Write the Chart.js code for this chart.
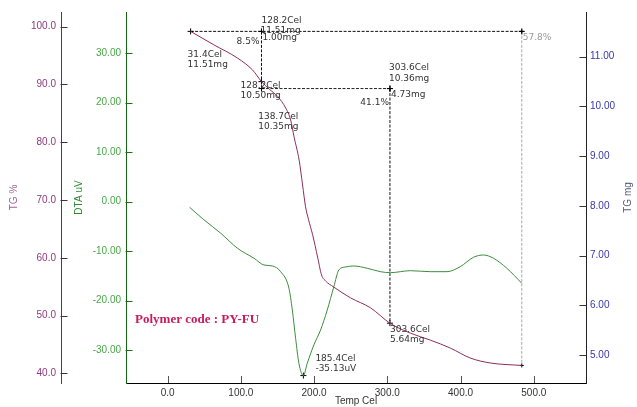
<!DOCTYPE html>
<html>
<head>
<meta charset="utf-8">
<title>TG / DTA - PY-FU</title>
<script src="https://cdn.jsdelivr.net/npm/chart.js@4.4.1/dist/chart.umd.min.js"></script>
<style>
    html, body { margin: 0; padding: 0; background: #fff; }
    #chart { display: block; }
</style>
</head>
<body>
<canvas id="chart" width="637" height="407"></canvas>
<script>
// Tick values
const tempTicks = [0, 100, 200, 300, 400, 500];
const pctTicks = [40, 50, 60, 70, 80, 90, 100];
const dtaTicks = [-30, -20, -10, 0, 10, 20, 30];
const mgTicks = [5, 6, 7, 8, 9, 10, 11];

// TG curve (Cel, mg)
const tgTemp = [31.4, 63.1, 95.8, 116.2, 128.2, 138.7, 150.3, 161.2, 168.0, 172.8, 179.6, 184.3, 188.4,
    192.5, 198.0, 204.8, 210.2, 215.7, 226.6, 249.7, 277.0, 303.6, 331.5, 358.7, 386.0, 413.2, 440.5, 483.6];
const tgMass = [11.51, 11.24, 10.97, 10.73, 10.50, 10.35, 10.20, 9.97, 9.73, 9.38, 8.92, 8.42, 7.98,
    7.72, 7.42, 6.97, 6.61, 6.49, 6.37, 6.15, 5.95, 5.64, 5.44, 5.30, 5.14, 4.94, 4.84, 4.79];

// DTA curve (Cel, uV)
const dtaTemp = [30.0, 49.9, 72.6, 95.4, 118.0, 131.6, 143.1, 154.4, 165.7, 170.3, 174.8, 179.3, 185.4,
    190.7, 199.7, 208.9, 218.0, 227.0, 233.8, 242.9, 254.2, 272.5, 290.6, 304.2, 331.5, 358.7, 381.5,
    399.6, 417.7, 431.3, 445.0, 463.2, 483.6];
const dtaSignal = [-1.13, -3.70, -6.38, -9.41, -11.43, -12.79, -12.99, -14.14, -17.49, -21.88, -27.60, -32.65, -35.13,
    -32.65, -28.95, -25.92, -21.88, -17.17, -13.80, -13.19, -12.99, -13.45, -14.14, -14.34, -13.94, -14.14, -14.14,
    -13.13, -11.23, -10.77, -11.43, -13.45, -16.48];

// Step analysis marks
const stepTemp = [31.4, 128.2, 303.6, 483.6];
const stepMass = [11.51, 10.50, 10.36, 5.64, 4.79];
const peakTemp = [185.4];
const peakDta = [-35.13];

const tgColor = '#8a2d5c';
const dtaColor = '#3c8c3c';

function pts(xs, ys) {
    return xs.map((x, i) => ({ x: x, y: ys[i] }));
}

function dashed(data, color, radius) {
    return {
        data: data,
        yAxisID: 'yMg',
        borderColor: color,
        backgroundColor: color,
        borderWidth: 1,
        borderDash: [3, 1.5],
        pointStyle: 'cross',
        pointRadius: radius,
        pointBorderWidth: 1,
        pointBorderColor: '#000',
        tension: 0
    };
}

// Annotation texts: anchor value plus pixel offset
const notes = [
    { text: '128.2Cel', t: stepTemp[1], v: stepMass[0], axis: 'yMg', dx: 0, dy: -11 },
    { text: '11.51mg', t: stepTemp[1], v: stepMass[0], axis: 'yMg', dx: -1, dy: -1 },
    { text: '1.00mg', t: stepTemp[1], v: stepMass[0], axis: 'yMg', dx: 1, dy: 6 },
    { text: '8.5%', t: stepTemp[1], v: stepMass[0], axis: 'yMg', dx: -2, dy: 10, align: 'right' },
    { text: '31.4Cel', t: stepTemp[0], v: stepMass[0], axis: 'yMg', dx: -3, dy: 23 },
    { text: '11.51mg', t: stepTemp[0], v: stepMass[0], axis: 'yMg', dx: -3, dy: 33 },
    { text: '128.2Cel', t: stepTemp[1], v: stepMass[1], axis: 'yMg', dx: -21, dy: 4 },
    { text: '10.50mg', t: stepTemp[1], v: stepMass[1], axis: 'yMg', dx: -21, dy: 14 },
    { text: '138.7Cel', t: 138.7, v: 10.35, axis: 'yMg', dx: -11, dy: 28 },
    { text: '10.35mg', t: 138.7, v: 10.35, axis: 'yMg', dx: -11, dy: 38 },
    { text: '303.6Cel', t: stepTemp[2], v: stepMass[2], axis: 'yMg', dx: -1, dy: -21 },
    { text: '10.36mg', t: stepTemp[2], v: stepMass[2], axis: 'yMg', dx: -1, dy: -10 },
    { text: '4.73mg', t: stepTemp[2], v: stepMass[2], axis: 'yMg', dx: 1, dy: 6 },
    { text: '41.1%', t: stepTemp[2], v: stepMass[2], axis: 'yMg', dx: -1, dy: 14, align: 'right' },
    { text: '57.8%', t: stepTemp[3], v: stepMass[0], axis: 'yMg', dx: 1, dy: 6, color: '#999' },
    { text: '303.6Cel', t: stepTemp[2], v: stepMass[3], axis: 'yMg', dx: 0, dy: 6 },
    { text: '5.64mg', t: stepTemp[2], v: stepMass[3], axis: 'yMg', dx: 0, dy: 16 },
    { text: '185.4Cel', t: peakTemp[0], v: peakDta[0], axis: 'yDta', dx: 12, dy: -17 },
    { text: '-35.13uV', t: peakTemp[0], v: peakDta[0], axis: 'yDta', dx: 12, dy: -7 }
];

const tickFont = { family: 'Liberation Sans', size: 10 };

function fixedTicks(values) {
    return function(axis) {
        axis.ticks = values.map(v => ({ value: v }));
    };
}

// Draws inward tick marks, axis titles, step labels and the caption
const overlay = {
    id: 'overlay',
    afterDraw(chart) {
        const { ctx, chartArea, scales } = chart;
        ctx.save();
        ctx.lineWidth = 1;

        [['yPct', '#4a2a44'], ['yDta', '#1d6b1d'], ['yMg', '#333']].forEach(([id, color]) => {
            const s = scales[id];
            const edge = s.position === 'left' ? Math.round(s.right) - 0.5 : Math.round(s.left) + 0.5;
            const dir = s.position === 'left' ? 1 : -1;
            ctx.strokeStyle = color;
            s.ticks.forEach(t => {
                const y = Math.round(s.getPixelForValue(t.value)) + 0.5;
                ctx.beginPath();
                ctx.moveTo(edge, y);
                ctx.lineTo(edge + dir * 7, y);
                ctx.stroke();
            });
        });

        const xs = scales.x;
        ctx.strokeStyle = '#555';
        xs.ticks.forEach(t => {
            const x = Math.round(xs.getPixelForValue(t.value)) + 0.5;
            ctx.beginPath();
            ctx.moveTo(x, chartArea.bottom);
            ctx.lineTo(x, chartArea.bottom - 7);
            ctx.stroke();
        });

        // axis titles
        const midY = (chartArea.top + chartArea.bottom) / 2;
        ctx.font = '10px "Liberation Sans"';
        ctx.textAlign = 'center';
        ctx.textBaseline = 'middle';
        [['TG %', scales.yPct.left + 14, '#a0649a'], ['DTA uV', scales.yDta.left + 18, '#2f8a2f'],
         ['TG mg', scales.yMg.right - 9, '#555a80']].forEach(([txt, x, color]) => {
            ctx.save();
            ctx.translate(x, midY);
            ctx.rotate(-Math.PI / 2);
            ctx.fillStyle = color;
            ctx.fillText(txt, 0, 0);
            ctx.restore();
        });
        ctx.fillStyle = '#333';
        ctx.fillText('Temp Cel', (chartArea.left + chartArea.right) / 2, chart.height - 6);

        // step labels
        ctx.font = '9px "DejaVu Sans"';
        notes.forEach(n => {
            const x = scales.x.getPixelForValue(n.t) + n.dx;
            const y = scales[n.axis].getPixelForValue(n.v) + n.dy;
            ctx.textAlign = n.align || 'left';
            ctx.fillStyle = n.color || '#333';
            ctx.fillText(n.text, x, y);
        });

        // caption
        ctx.font = 'bold 13px "Liberation Serif"';
        ctx.textAlign = 'left';
        ctx.fillStyle = '#c61c5a';
        ctx.fillText('Polymer code : PY-FU', chartArea.left + 9, chartArea.top + 308);

        ctx.restore();
    }
};

new Chart(document.getElementById('chart'), {
    type: 'line',
    data: {
        datasets: [
            {
                data: pts(tgTemp, tgMass),
                yAxisID: 'yMg',
                borderColor: tgColor,
                borderWidth: 1,
                pointRadius: 0,
                cubicInterpolationMode: 'monotone'
            },
            {
                data: pts(dtaTemp, dtaSignal),
                yAxisID: 'yDta',
                borderColor: dtaColor,
                borderWidth: 1,
                pointRadius: 0,
                cubicInterpolationMode: 'monotone'
            },
            // step lines
            dashed(pts([stepTemp[0], stepTemp[1], stepTemp[3]], [stepMass[0], stepMass[0], stepMass[0]]), '#111', 3),
            dashed(pts([stepTemp[1], stepTemp[1]], [stepMass[0], stepMass[2]]), '#111', 0),
            dashed(pts([stepTemp[1], stepTemp[2]], [stepMass[2], stepMass[2]]), '#222', 3),
            dashed(pts([stepTemp[2], stepTemp[2]], [stepMass[2], stepMass[3]]), '#111', 3),
            dashed(pts([stepTemp[3], stepTemp[3]], [stepMass[0], stepMass[4]]), '#aaa', 2),
            dashed(pts([stepTemp[1]], [stepMass[1]]), '#111', 3),
            {
                data: pts(peakTemp, peakDta),
                yAxisID: 'yDta',
                showLine: false,
                pointStyle: 'cross',
                pointRadius: 3,
                pointBorderWidth: 1,
                pointBorderColor: '#000'
            }
        ]
    },
    options: {
        responsive: false,
        animation: false,
        layout: { padding: { top: 12, left: 0, right: 0, bottom: 0 } },
        plugins: {
            legend: { display: false },
            tooltip: { enabled: false }
        },
        scales: {
            x: {
                type: 'linear',
                position: 'bottom',
                min: -56.8,
                max: 571.3,
                afterBuildTicks: fixedTicks(tempTicks),
                afterFit: a => { a.height = 24; },
                ticks: {
                    font: tickFont,
                    color: '#333',
                    padding: 4,
                    maxRotation: 0,
                    autoSkip: false,
                    callback: v => v.toFixed(1)
                },
                grid: { drawOnChartArea: false, drawTicks: false },
                border: { color: '#000', width: 1 }
            },
            yPct: {
                type: 'linear',
                position: 'left',
                weight: 2,
                min: 38.32,
                max: 102.54,
                afterBuildTicks: fixedTicks(pctTicks),
                afterFit: a => { a.width = 61; },
                ticks: {
                    font: tickFont,
                    color: '#8e3a7c',
                    padding: 5,
                    autoSkip: false,
                    callback: v => v.toFixed(1)
                },
                grid: { drawOnChartArea: false, drawTicks: false },
                border: { color: '#6e2a5e', width: 1 }
            },
            yDta: {
                type: 'linear',
                position: 'left',
                weight: 1,
                min: -36.63,
                max: 38.32,
                afterBuildTicks: fixedTicks(dtaTicks),
                afterFit: a => { a.width = 65; },
                ticks: {
                    font: tickFont,
                    color: '#48a848',
                    padding: 5,
                    autoSkip: false,
                    callback: v => v.toFixed(2)
                },
                grid: { drawOnChartArea: false, drawTicks: false },
                border: { color: '#146414', width: 1 }
            },
            yMg: {
                type: 'linear',
                position: 'right',
                min: 4.437,
                max: 11.90,
                afterBuildTicks: fixedTicks(mgTicks),
                afterFit: a => { a.width = 51; },
                ticks: {
                    font: tickFont,
                    color: '#3838a8',
                    padding: 4,
                    autoSkip: false,
                    callback: v => v.toFixed(2)
                },
                grid: { drawOnChartArea: false, drawTicks: false },
                border: { color: '#222', width: 1 }
            }
        }
    },
    plugins: [overlay]
});
</script>
</body>
</html>
